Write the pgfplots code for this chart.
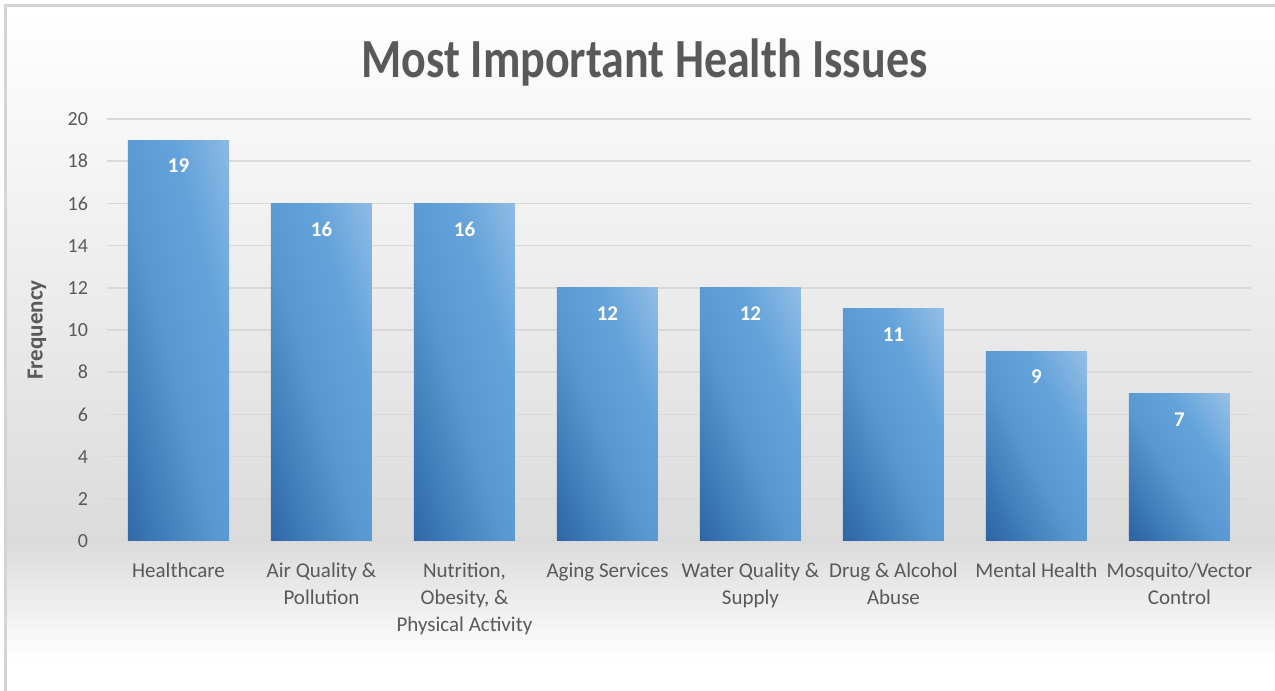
\documentclass[border=0pt]{standalone}
\usepackage{pgfplots}
\pgfplotsset{compat=1.18}
\usepackage{fontspec}
\setmainfont{Carlito}
\usepackage{graphicx}
\definecolor{txt}{HTML}{595959}
\definecolor{gridc}{HTML}{D9D9D9}
\definecolor{bgdark}{HTML}{DBDBDB}
\definecolor{framec}{HTML}{D4D4D4}
\definecolor{bdark}{HTML}{2C66A4}
\definecolor{bmid}{HTML}{5897D2}
\definecolor{bmid2}{HTML}{64A3DA}
\definecolor{blight}{HTML}{A0C5E8}
\pgfdeclareverticalshading{barshade}{100bp}{color(0bp)=(bdark); color(17bp)=(bdark); color(46bp)=(bmid); color(64bp)=(bmid2); color(88bp)=(blight); color(100bp)=(blight)}
\pgfplotsset{
  mybar/.style={ybar, bar width=50.5bp, bar shift=0pt, draw=none, shading=barshade, shading angle=#1,
    nodes near coords,
    every node near coord/.append style={text=white, font=\bfseries\fontsize{10.5bp}{12bp}\selectfont, anchor=center, yshift=-13bp}},
}
\begin{document}
\begin{tikzpicture}
\path[use as bounding box] (0,0) rectangle (637.5bp,345.5bp);
\fill[white] (0,0) rectangle (637.5bp,345.5bp);
\shade[top color=white, bottom color=bgdark] (3bp,75bp) rectangle (637.5bp,342.5bp);
\shade[top color=bgdark, bottom color=white] (3bp,15bp) rectangle (637.5bp,75bp);
\draw[color=framec, line width=1.5bp] (2.75bp,0) -- (2.75bp,342.75bp) -- (637.5bp,342.75bp);
\node[anchor=base, font=\bfseries\fontsize{23bp}{28bp}\selectfont, text=txt] at (322.25bp,306.5bp) {\scalebox{1}[1.2]{Most Important Health Issues}};
\begin{axis}[
  at={(53.5bp,75bp)}, anchor=south west,
  scale only axis, width=572bp, height=211bp,
  xmin=-0.5, xmax=7.5, ymin=0, ymax=20,
  ytick={0,2,...,20}, xtick={0,...,7},
  xticklabels={Healthcare, {Air Quality \&\\Pollution}, {Nutrition,\\Obesity, \&\\Physical Activity}, Aging Services, {Water Quality \&\\Supply}, {Drug \& Alcohol\\Abuse}, Mental Health, {Mosquito/Vector\\Control}},
  /pgf/number format/assume math mode=true,
  ymajorgrids, grid style={gridc, line width=0.75bp},
  axis line style={draw=none},
  major tick length=0pt,
  tick label style={text=txt},
  yticklabel style={font=\fontsize{10bp}{12bp}\selectfont, xshift=-6bp},
  xticklabel style={font=\fontsize{10.5bp}{13.5bp}\selectfont, align=center, anchor=north, yshift=-7.5bp},
  ylabel={Frequency},
  every axis y label/.style={at={(axis description cs:-0.0612,0.5)}, rotate=90, anchor=center, font=\bfseries\fontsize{11.5bp}{13bp}\selectfont, text=txt},
  clip=false,
]
\addplot[mybar=-76] coordinates {(0,19)};
\addplot[mybar=-73] coordinates {(1,16)};
\addplot[mybar=-73] coordinates {(2,16)};
\addplot[mybar=-68] coordinates {(3,12)};
\addplot[mybar=-68] coordinates {(4,12)};
\addplot[mybar=-66] coordinates {(5,11)};
\addplot[mybar=-62] coordinates {(6,9)};
\addplot[mybar=-56] coordinates {(7,7)};
\end{axis}
\end{tikzpicture}
\end{document}
